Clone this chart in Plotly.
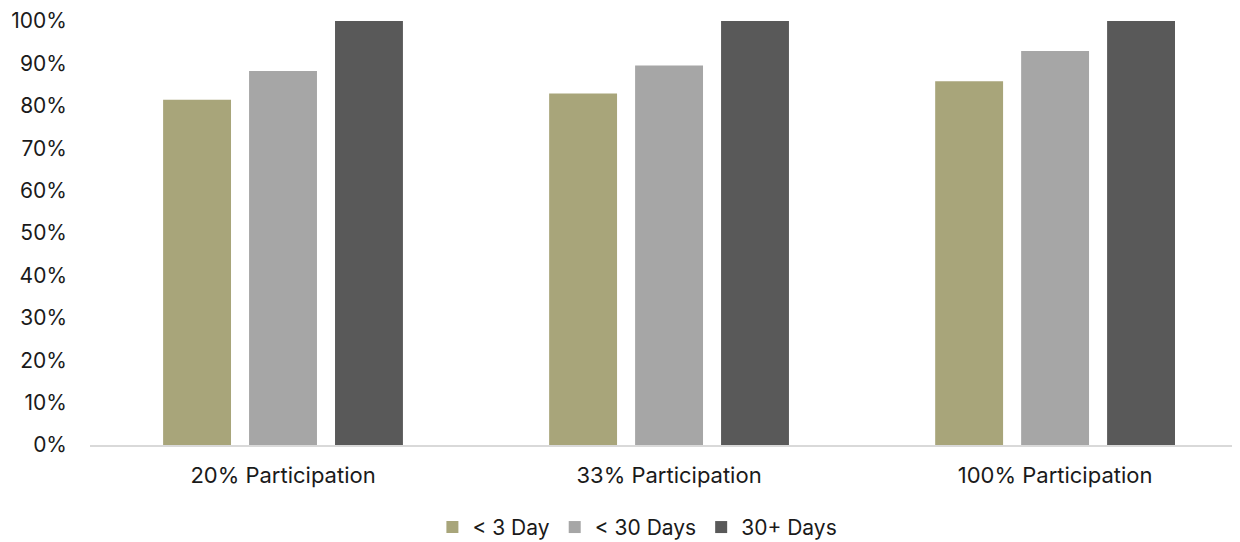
import plotly.graph_objects as go

CATEGORIES = ["20% Participation", "33% Participation", "100% Participation"]
SERIES = ["< 3 Day", "< 30 Days", "30+ Days"]
LT_3_DAY = [0.814, 0.829, 0.858]
LT_30_DAYS = [0.882, 0.895, 0.929]
PLUS_30_DAYS = [1.0, 1.0, 1.0]

COLORS = ["#A8A57A", "#A6A6A6", "#595959"]
FONT = "Inter, Lato, sans-serif"

fig = go.Figure()
for name, vals, color in zip(SERIES, [LT_3_DAY, LT_30_DAYS, PLUS_30_DAYS], COLORS):
    fig.add_trace(go.Bar(x=CATEGORIES, y=vals, name=name, marker_color=color,
                         marker_line_width=0))

# page body has an 8px margin, so size the figure to fit inside the window
fig.update_layout(
    width=1232,
    height=534,
    barmode="group",
    bargap=0.332,
    bargroupgap=0.21,
    plot_bgcolor="white",
    paper_bgcolor="white",
    margin=dict(l=82, r=0, t=13, b=97, autoexpand=False),
    font=dict(family=FONT, size=21, color="#1a1a1a"),
    legend=dict(orientation="h", x=0.476, xanchor="center", y=-0.146, yanchor="top",
                font=dict(size=21), traceorder="normal", itemwidth=30),
    xaxis=dict(range=[-0.5, 2.479], showgrid=False, showline=True, linecolor="#d9d9d9",
               linewidth=1.5, ticks="", ticklabelstandoff=10, automargin=False,
               tickfont=dict(size=22)),
    yaxis=dict(range=[0, 1], dtick=0.1, tickformat=".0%", showgrid=False, zeroline=False,
               showline=False, ticks="", ticklabelstandoff=22, automargin=False),
)

fig.write_html("out.html")
